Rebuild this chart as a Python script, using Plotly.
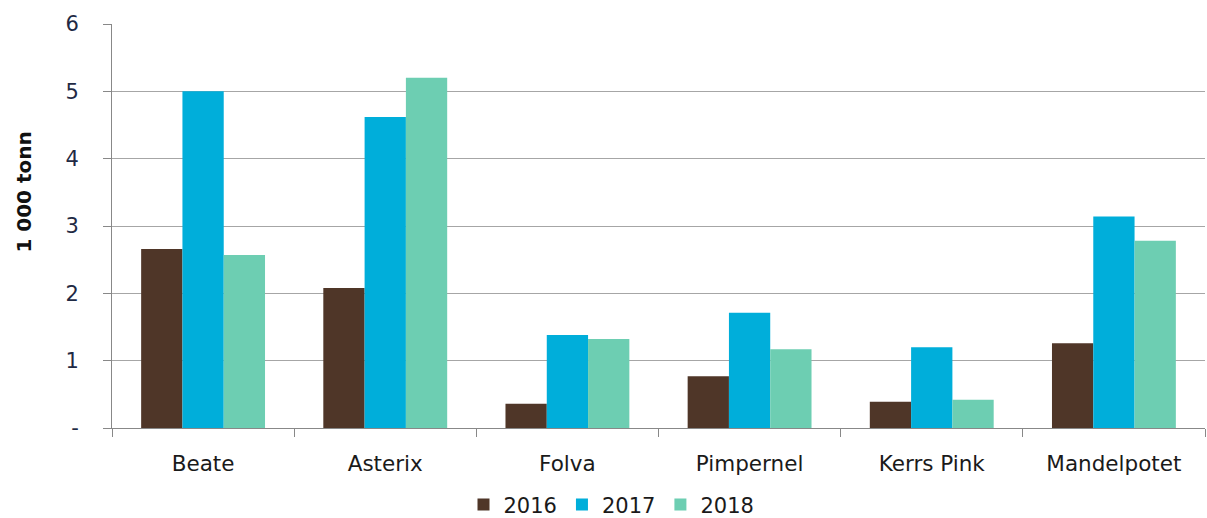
import plotly.graph_objects as go

categories = ["Beate", "Asterix", "Folva", "Pimpernel", "Kerrs Pink", "Mandelpotet"]
years = ["2016", "2017", "2018"]
v2016 = [2.66, 2.08, 0.36, 0.77, 0.39, 1.26]
v2017 = [5.00, 4.62, 1.38, 1.71, 1.20, 3.14]
v2018 = [2.57, 5.20, 1.32, 1.17, 0.42, 2.78]
colors = ["#4F3628", "#00AEDA", "#6DCEB2"]
ytick_vals = [0, 1, 2, 3, 4, 5, 6]
ytick_text = ["-", "1", "2", "3", "4", "5", "6"]

fig = go.Figure()
for name, vals, c in zip(years, [v2016, v2017, v2018], colors):
    fig.add_trace(go.Bar(name=name, x=categories, y=vals, marker_color=c,
                         marker_line_width=0))

font = "DejaVu Sans, sans-serif"
fig.update_layout(
    width=1207, height=518,
    margin=dict(l=112, r=2, t=24, b=90, autoexpand=False),
    paper_bgcolor="white", plot_bgcolor="white",
    barmode="group", bargap=0.32, bargroupgap=0,
    font=dict(family=font, size=21, color="#1a1a1a"),
    showlegend=True,
    legend=dict(orientation="h", x=0.457, xanchor="center", y=-0.19, yanchor="middle",
                font=dict(size=21, family=font, color="#1a1a1a"),
                traceorder="normal", itemwidth=30),
    xaxis=dict(showline=True, linecolor="#888888", linewidth=1, automargin=False,
               ticks="outside", tickson="boundaries", ticklen=8, tickcolor="#888888",
               tickfont=dict(size=21.5), ticklabelstandoff=16, showgrid=False),
    yaxis=dict(range=[0, 6], tickvals=ytick_vals, ticktext=ytick_text, automargin=False,
               showline=True, linecolor="#888888", linewidth=1,
               ticks="outside", ticklen=8, tickcolor="#888888",
               showgrid=True, gridcolor="#a6a6a6", gridwidth=1,
               tickfont=dict(size=21, color="#1f2a44"), ticklabelstandoff=20,
               zeroline=False),
    annotations=[dict(text="<b>1 000 tonn</b>", xref="paper", yref="paper",
                      x=-0.08, y=0.584, xanchor="center", yanchor="middle",
                      textangle=-90, showarrow=False,
                      font=dict(size=20, color="#111111", family=font))],
)

fig.write_html("out.html", config={"displayModeBar": False},
               post_script="document.body.style.margin='0';")
